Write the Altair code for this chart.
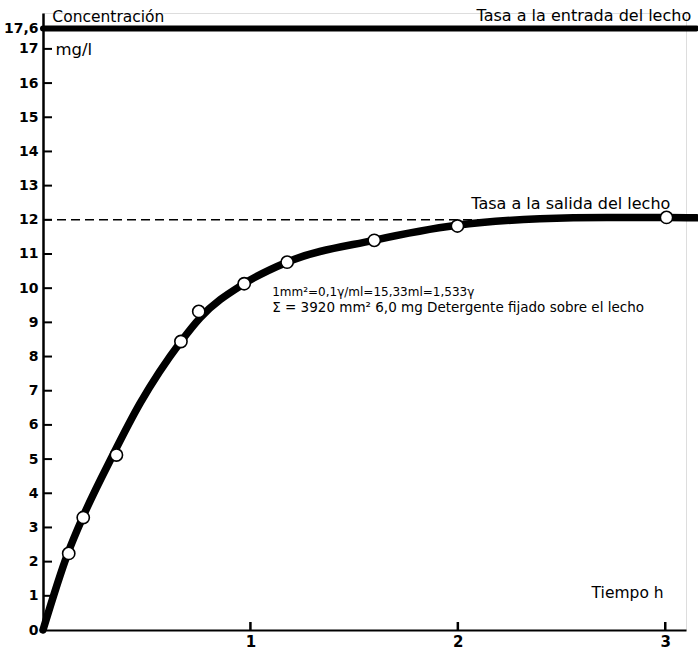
import altair as alt
import pandas as pd

# Measured outlet concentration (mg/l) against time (h)
tiempo_h = [0.124, 0.194, 0.354, 0.665, 0.751, 0.970, 1.177, 1.597, 1.998, 3.006]
concentracion = [2.24, 3.29, 5.12, 8.44, 9.32, 10.13, 10.76, 11.40, 11.82, 12.07]

# Hand-faired breakthrough curve drawn through the samples
curva_t = [0.0, 0.120, 0.191, 0.337, 0.467, 0.665, 0.757, 0.969, 1.176, 1.595, 1.995, 2.395, 2.718, 3.007, 3.152]
curva_c = [0.0, 2.25, 3.29, 5.12, 6.62, 8.44, 9.13, 10.13, 10.76, 11.40, 11.84, 12.03, 12.07, 12.07, 12.06]

y_ticks = list(range(0, 18)) + [17.6]
y_minor = list(range(1, 18))
x_ticks = [1, 2, 3]

tasa_entrada = 17.6   # inlet concentration
tasa_salida = 12.0    # outlet plateau

FONT = "DejaVu Sans"
X_DOM = [0, 3.1]
Y_DOM = [0, 18.05]
W, H = 643, 617

xs = alt.Scale(domain=X_DOM, nice=False, zero=False)
ys = alt.Scale(domain=Y_DOM, nice=False, zero=False)

x_axis = alt.Axis(
    values=x_ticks, title=None, ticks=False, grid=False, domainColor="black",
    domainWidth=2, labelFont=FONT, labelFontSize=15, labelFontWeight="bold",
    labelColor="black", labelPadding=4, format="d", labelOverlap=False)
y_axis = alt.Axis(
    values=y_ticks, title=None, ticks=False, grid=False, domainColor="black",
    domainWidth=2.5, labelFont=FONT, labelFontSize=14, labelFontWeight="bold",
    labelColor="black", labelPadding=5, labelOverlap=False, labelBound=False,
    labelExpr="datum.value == 17.6 ? '17,6' : format(datum.value, 'd')")


def X(field="t"):
    return alt.X(f"{field}:Q", scale=xs, axis=x_axis)


def Y(field="c"):
    return alt.Y(f"{field}:Q", scale=ys, axis=y_axis)


puntos = pd.DataFrame({"t": tiempo_h, "c": concentracion})
curva = pd.DataFrame({"t": curva_t, "c": curva_c})

# inward ticks on both axes
y_tick_marks = alt.Chart(pd.DataFrame({"c": y_minor})).mark_rule(
    color="black", strokeWidth=2).encode(y=Y(), x=alt.value(0), x2=alt.value(9))
x_tick_marks = alt.Chart(pd.DataFrame({"t": x_ticks})).mark_rule(
    color="black", strokeWidth=2.5).encode(x=X(), y=alt.value(H), y2=alt.value(H - 8))

entrada = alt.Chart(pd.DataFrame({"c": [tasa_entrada], "t": [0.0], "t1": [3.15]})).mark_rule(
    color="black", strokeWidth=6, strokeCap="round").encode(y=Y(), x=X(), x2="t1:Q")

salida = alt.Chart(pd.DataFrame({"c": [tasa_salida], "t": [0.0], "t1": [2.35]})).mark_rule(
    color="black", strokeWidth=1.5, strokeDash=[9, 5]).encode(y=Y(), x=X(), x2="t1:Q")

linea = alt.Chart(curva).mark_line(
    color="black", strokeWidth=7.5, interpolate="monotone", strokeCap="round").encode(
    x=X(), y=Y(), order="t:Q")

circulos = alt.Chart(puntos).mark_point(
    shape="circle", filled=True, fill="white", stroke="black", strokeWidth=1.6,
    size=150, opacity=1).encode(x=X(), y=Y())


def texto(s, t, c, size=15, align="left", weight="normal"):
    return alt.Chart(pd.DataFrame({"s": [s], "t": [t], "c": [c]})).mark_text(
        font=FONT, fontSize=size, align=align, baseline="middle",
        fontWeight=weight, color="black").encode(x=X(), y=Y(), text="s:N")


etiquetas = [
    texto("Concentración", 0.045, 17.93, 15.5),
    texto("mg/l", 0.06, 16.97, 16.5),
    texto("Tasa a la entrada del lecho", 3.125, 17.95, 16, align="right"),
    texto("Tasa a la salida del lecho", 2.065, 12.45, 16),
    texto("1mm²=0,1γ/ml=15,33ml=1,533γ", 1.105, 9.9, 12),
    texto("Σ = 3920 mm² 6,0 mg  Detergente fijado sobre el lecho", 1.105, 9.42, 13.5),
    texto("Tiempo h", 2.645, 1.08, 15.5),
]

chart = alt.layer(
    y_tick_marks, x_tick_marks, entrada, salida, linea, circulos, *etiquetas
).properties(
    width=W, height=H,
    padding={"left": 43, "top": 13, "right": 12, "bottom": 21},
    autosize=alt.AutoSizeParams(type="none"),
).configure_view(stroke=None).configure(background="white")

chart.save("out.html", embed_options={"renderer": "svg", "actions": False})
